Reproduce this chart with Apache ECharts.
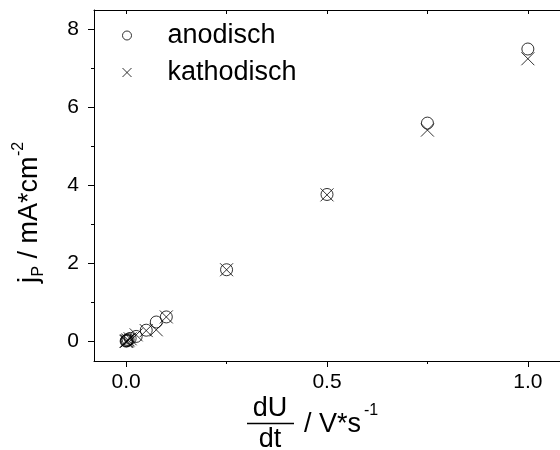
<!DOCTYPE html>
<html>
<head>
<meta charset="utf-8">
<script src="https://cdn.jsdelivr.net/npm/echarts@6/dist/echarts.min.js"></script>
<style>
  html, body { margin: 0; padding: 0; background: #fff; }
  #chart { width: 560px; height: 450px; }
</style>
</head>
<body>
<div id="chart"></div>
<script>
// Scan rate (V/s) and peak current density (mA/cm²)
const scanRates = [0, 0.001, 0.0025, 0.005, 0.01, 0.025, 0.05, 0.075, 0.1, 0.25, 0.5, 0.75, 1.0];
const anodisch  = [0.01, 0.02, 0.03, 0.05, 0.08, 0.13, 0.29, 0.50, 0.63, 1.84, 3.77, 5.60, 7.50];
const kathodisch = [0.0, 0.01, 0.02, 0.04, 0.07, 0.17, 0.28, 0.30, 0.63, 1.84, 3.76, 5.42, 7.25];

const xMajorTicks = [0, 0.5, 1.0];
const xMinorTicks = [0.25, 0.75];
const xTopTicks = [0, 0.25, 0.5, 0.75, 1.0];
const yMajorTicks = [0, 2, 4, 6, 8];
const yMinorTicks = [1, 3, 5, 7];

const FONT = 'Liberation Sans, Arial, sans-serif';
const INK = '#000';

const toPairs = (xs, ys) => xs.map((x, i) => [x, ys[i]]);

const X_MIN = -0.08, X_MAX = 1.08, Y_MIN = -0.5, Y_MAX = 8.5;

const chart = echarts.init(document.getElementById('chart'), null, { renderer: 'canvas' });

const baseX = {
  type: 'value', min: X_MIN, max: X_MAX, gridIndex: 0,
  splitLine: { show: false }
};
const baseY = {
  type: 'value', min: Y_MIN, max: Y_MAX, gridIndex: 0,
  splitLine: { show: false }
};

chart.setOption({
  animation: false,
  backgroundColor: '#fff',
  grid: { left: 94, top: 10, right: -10, bottom: 89, containLabel: false },
  legend: {
    orient: 'vertical',
    left: 117, top: 17,
    itemWidth: 9, itemHeight: 9, itemGap: 10,
    itemStyle: { borderWidth: 1 },
    textStyle: { fontFamily: FONT, fontSize: 27, color: INK, padding: [0, 0, 0, 31] },
    data: ['anodisch', 'kathodisch']
  },
  xAxis: [
    Object.assign({}, baseX, {
      position: 'bottom',
      axisLine: { show: true, onZero: false, lineStyle: { color: INK, width: 1 } },
      axisTick: { show: true, inside: false, length: 6, customValues: xMajorTicks, lineStyle: { color: INK } },
      axisLabel: {
        show: true, customValues: xMajorTicks, margin: 11,
        fontFamily: FONT, fontSize: 21, color: INK,
        formatter: v => v.toFixed(1)
      }
    }),
    Object.assign({}, baseX, {
      position: 'bottom',
      axisLine: { show: false, onZero: false },
      axisTick: { show: true, inside: false, length: 3, customValues: xMinorTicks, lineStyle: { color: INK } },
      axisLabel: { show: false }
    }),
    Object.assign({}, baseX, {
      position: 'top',
      axisLine: { show: true, onZero: false, lineStyle: { color: INK, width: 1 } },
      axisTick: { show: true, inside: true, length: 4, customValues: xTopTicks, lineStyle: { color: INK } },
      axisLabel: { show: false }
    })
  ],
  yAxis: [
    Object.assign({}, baseY, {
      position: 'left',
      axisLine: { show: true, onZero: false, lineStyle: { color: INK, width: 1 } },
      axisTick: { show: true, inside: false, length: 6, customValues: yMajorTicks, lineStyle: { color: INK } },
      axisLabel: {
        show: true, customValues: yMajorTicks, margin: 15,
        fontFamily: FONT, fontSize: 21, color: INK
      }
    }),
    Object.assign({}, baseY, {
      position: 'left',
      axisLine: { show: false, onZero: false },
      axisTick: { show: true, inside: false, length: 3, customValues: yMinorTicks, lineStyle: { color: INK } },
      axisLabel: { show: false }
    })
  ],
  series: [
    {
      name: 'anodisch',
      type: 'scatter',
      xAxisIndex: 0, yAxisIndex: 0,
      symbol: 'circle',
      symbolSize: 12,
      itemStyle: { color: 'transparent', borderColor: INK, borderWidth: 1 },
      data: toPairs(scanRates, anodisch),
      z: 3
    },
    {
      name: 'kathodisch',
      type: 'scatter',
      xAxisIndex: 0, yAxisIndex: 0,
      symbol: 'path://M0,0L10,10M10,0L0,10',
      symbolSize: 13,
      itemStyle: { color: 'transparent', borderColor: INK, borderWidth: 1 },
      data: toPairs(scanRates, kathodisch),
      z: 4
    }
  ],
  graphic: [
    // y-axis title: j_P / mA*cm^-2, reading bottom to top
    {
      type: 'group',
      x: 30, y: 283,
      rotation: Math.PI / 2,
      children: [
        { type: 'text', x: 0, y: 0, style: { text: 'j', font: '27px ' + FONT, fill: INK, align: 'left', verticalAlign: 'middle' } },
        { type: 'text', x: 6.5, y: 9, style: { text: 'P', font: '16px ' + FONT, fill: INK, align: 'left', verticalAlign: 'middle' } },
        { type: 'text', x: 17, y: 0, style: { text: ' / mA*cm', font: '27px ' + FONT, fill: INK, align: 'left', verticalAlign: 'middle' } },
        { type: 'text', x: 127, y: -11, style: { text: '-2', font: '16px ' + FONT, fill: INK, align: 'left', verticalAlign: 'middle' } }
      ]
    },
    // x-axis title: (dU/dt) / V*s^-1
    {
      type: 'group',
      x: 0, y: 0,
      children: [
        { type: 'text', x: 270, y: 409, style: { text: 'dU', font: '27px ' + FONT, fill: INK, align: 'center', verticalAlign: 'middle' } },
        { type: 'line', shape: { x1: 247, y1: 423.5, x2: 294, y2: 423.5 }, style: { stroke: INK, lineWidth: 1.5 } },
        { type: 'text', x: 270, y: 440, style: { text: 'dt', font: '27px ' + FONT, fill: INK, align: 'center', verticalAlign: 'middle' } },
        { type: 'text', x: 304, y: 425, style: { text: '/ V*s', font: '27px ' + FONT, fill: INK, align: 'left', verticalAlign: 'middle' } },
        { type: 'text', x: 364, y: 411, style: { text: '-1', font: '16px ' + FONT, fill: INK, align: 'left', verticalAlign: 'middle' } }
      ]
    }
  ]
});
</script>
</body>
</html>
